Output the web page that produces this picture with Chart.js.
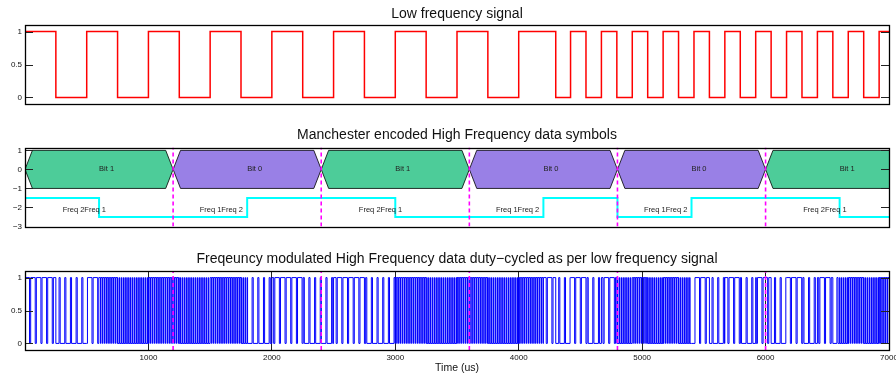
<!DOCTYPE html>
<html>
<head>
<meta charset="utf-8">
<script src="https://cdn.jsdelivr.net/npm/chart.js@4"></script>
<style>
  html, body { margin: 0; padding: 0; background: #fff; }
  #wrap { position: relative; width: 896px; height: 377px; }
  .pane { position: absolute; left: 0; width: 896px; }
</style>
</head>
<body>
<div id="wrap">
  <div class="pane" style="top:0;height:112px"><canvas id="lowFreq"></canvas></div>
  <div class="pane" style="top:120px;height:115px"><canvas id="symbols"></canvas></div>
  <div class="pane" style="top:240px;height:137px"><canvas id="fmSignal"></canvas></div>
</div>
<script>
// time axis (us)
const tMax = 7000;
const xTicks = [0, 1000, 2000, 3000, 4000, 5000, 6000, 7000];

// low frequency signal: rising / falling edges (us)
const lowRise = [0, 500, 1000, 1500, 2000, 2500, 3000, 3500, 4000, 4420, 4670, 4920, 5170, 5420, 5670, 5920, 6170, 6420, 6670, 6920];
const lowFall = [250, 750, 1250, 1750, 2250, 2750, 3250, 3750, 4300, 4545, 4795, 5045, 5295, 5545, 5795, 6045, 6295, 6545, 6795];
const unitTicks = [0, 0.5, 1];

// manchester symbols
const bitStart = [0, 1200, 2400, 3600, 4800, 6000];
const bitValue = [1, 0, 1, 0, 0, 1];
const bitLen = 1200;
const bitSlope = 60;
const bitColors = ['#9980e6', '#4dcc99'];      // bit 0, bit 1
const freqLabel = ['Freq 1Freq 2', 'Freq 2Freq 1'];
const freqLabelOffset = [215, 305];
const freqLabelY = -2.12;
const symbolEdges = [1200, 2400, 3600, 4800, 6000];
const symTicks = [-3, -2, -1, 0, 1];

// frequency selection line (Freq 2 = -1.5, Freq 1 = -2.5)
const freqTimes = [0, 600, 1800, 3000, 4200, 4800, 5400, 6600];
const freqLevels = [-1.5, -2.5, -1.5, -2.5, -1.5, -2.5, -1.5, -2.5];

// carrier
const freq2Period = 46;   // sparse
const freq1Period = 15;   // dense
const dutyOn = 0.8;
const dutyOff = 0.2;

const fontFamily = "'Liberation Sans', Arial, Helvetica, sans-serif";
Chart.defaults.font.family = fontFamily;

// ---- build series ----
const lowPoints = [];
lowRise.forEach((r, i) => {
  lowPoints.push({x: r, y: 1});
  if (i < lowFall.length) lowPoints.push({x: lowFall[i], y: 0});
});
lowPoints.push({x: tMax, y: lowPoints[lowPoints.length - 1].y});

const freqPoints = freqTimes.map((t, i) => ({x: t, y: freqLevels[i]}));
freqPoints.push({x: tMax, y: freqLevels[freqLevels.length - 1]});

function levelAt(points, t) {
  let v = points[0].y;
  points.forEach(p => { if (p.x <= t) v = p.y; });
  return v;
}

const cuts = [...new Set([...lowRise, ...lowFall, ...freqTimes, tMax])].sort((a, b) => a - b);
const fmPoints = [];
for (let i = 0; i < cuts.length - 1; i++) {
  const a = cuts[i], b = cuts[i + 1];
  const on = levelAt(lowPoints, a) === 1;
  const P = levelAt(freqPoints, a) === -1.5 ? freq2Period : freq1Period;
  const d = (on ? dutyOn : dutyOff) * P;
  for (let c = Math.floor(a / P) * P; c < b; c += P) {
    const h0 = Math.max(c, a), h1 = Math.min(c + d, b);
    if (h1 > h0) fmPoints.push({x: h0, y: 1});
    const l0 = Math.max(c + d, a), l1 = Math.min(c + P, b);
    if (l1 > l0) fmPoints.push({x: l0, y: 0});
  }
}
fmPoints.push({x: tMax, y: fmPoints[fmPoints.length - 1].y});

function dashedEdges(yMin, yMax) {
  return symbolEdges.map(e => ({
    data: [{x: e, y: yMin}, {x: e, y: yMax}],
    borderColor: '#ff00ff', borderWidth: 1.6, borderDash: [4, 3],
    pointRadius: 0, fill: false
  }));
}

// hexagons: top edge filled down to bottom edge
const hexSets = [];
bitStart.forEach((s, i) => {
  const xs = [s, s + bitSlope, s + bitLen - bitSlope, s + bitLen];
  hexSets.push({
    data: xs.map((x, k) => ({x, y: (k === 0 || k === 3) ? 0 : 1})),
    borderColor: '#000', borderWidth: 0.8, pointRadius: 0,
    backgroundColor: bitColors[bitValue[i]], fill: '+1'
  });
  hexSets.push({
    data: xs.map((x, k) => ({x, y: (k === 0 || k === 3) ? 0 : -1})),
    borderColor: '#000', borderWidth: 0.8, pointRadius: 0, fill: false
  });
});

// ---- plugins ----
const framePlugin = {
  id: 'frame',
  afterDatasetsDraw(chart) {
    const {ctx, chartArea: a, scales} = chart;
    ctx.save();
    ctx.strokeStyle = '#222';
    ctx.lineWidth = 1;
    scales.y.ticks.forEach(t => {
      const py = Math.round(scales.y.getPixelForValue(t.value)) + 0.5;
      ctx.beginPath();
      ctx.moveTo(a.left, py); ctx.lineTo(a.left + 8, py);
      ctx.moveTo(a.right, py); ctx.lineTo(a.right - 8, py);
      ctx.stroke();
    });
    ctx.strokeStyle = '#000';
    ctx.lineWidth = 1.3;
    ctx.strokeRect(Math.round(a.left) + 0.5, Math.round(a.top) + 0.5,
      Math.round(a.right - a.left), Math.round(a.bottom - a.top));
    ctx.restore();
  }
};

const symbolText = {
  id: 'symbolText',
  afterDatasetsDraw(chart) {
    const {ctx, chartArea: a, scales: {x, y}} = chart;
    ctx.save();
    ctx.beginPath();
    ctx.rect(a.left, a.top, a.right - a.left, a.bottom - a.top);
    ctx.clip();
    ctx.font = '7.5px ' + fontFamily;
    ctx.fillStyle = '#222';
    ctx.textAlign = 'left';
    ctx.textBaseline = 'middle';
    bitStart.forEach((s, i) => {
      ctx.fillText('Bit ' + bitValue[i], x.getPixelForValue(s + bitLen / 2), y.getPixelForValue(0));
      ctx.fillText(freqLabel[bitValue[i]], x.getPixelForValue(s + freqLabelOffset[bitValue[i]]), y.getPixelForValue(freqLabelY));
    });
    ctx.restore();
  }
};

const tickFont = {family: fontFamily, size: 8};
const fitY = s => { s.width = 25; s.paddingTop = 0; s.paddingBottom = 0; };

function yScale(min, max, ticks, fmt) {
  return {
    min, max,
    afterBuildTicks: s => { s.ticks = ticks.map(v => ({value: v})); },
    afterFit: fitY,
    grid: {display: false, drawTicks: false},
    border: {display: false},
    ticks: {font: tickFont, color: '#111', padding: 3, callback: fmt}
  };
}

function titleOpt(text, top, bottom) {
  return {
    display: true, text, fullSize: false, color: '#111',
    font: {family: fontFamily, size: 14, weight: 'normal'},
    padding: {top, bottom}
  };
}

const common = {
  animation: false,
  responsive: true,
  maintainAspectRatio: false,
  elements: {line: {tension: 0}}
};

new Chart(document.getElementById('lowFreq'), {
  type: 'line',
  data: {datasets: [{data: lowPoints, borderColor: '#ff0000', borderWidth: 1.5, stepped: true, pointRadius: 0, fill: false}]},
  options: Object.assign({}, common, {
    layout: {padding: {left: 0, right: 7, top: 0, bottom: 8}},
    plugins: {legend: {display: false}, tooltip: {enabled: false},
      title: titleOpt('Low frequency signal', 5.6, 2.6)},
    scales: {
      x: {type: 'linear', min: 0, max: tMax, display: false},
      y: yScale(-0.1, 1.1, unitTicks, v => String(v))
    }
  }),
  plugins: [framePlugin]
});

new Chart(document.getElementById('symbols'), {
  type: 'line',
  data: {datasets: [
    ...dashedEdges(-3, 1.15),
    {data: freqPoints, borderColor: '#00ffff', borderWidth: 2, stepped: true, pointRadius: 0, fill: false},
    ...hexSets
  ]},
  options: Object.assign({}, common, {
    layout: {padding: {left: 0, right: 7, top: 0, bottom: 8.5}},
    plugins: {legend: {display: false}, tooltip: {enabled: false},
      filler: {drawTime: 'beforeDatasetsDraw'},
      title: titleOpt('Manchester encoded High Frequency data symbols', 6.6, 4.1)},
    scales: {
      x: {type: 'linear', min: 0, max: tMax, display: false},
      y: yScale(-3, 1.15, symTicks, v => String(v).replace('-', '\u2212'))
    }
  }),
  plugins: [framePlugin, symbolText]
});

new Chart(document.getElementById('fmSignal'), {
  type: 'line',
  data: {datasets: [
    ...dashedEdges(-0.1, 1.1),
    {data: fmPoints, borderColor: '#0000ff', borderWidth: 1, stepped: true, pointRadius: 0, fill: false}
  ]},
  options: Object.assign({}, common, {
    layout: {padding: {left: 0, right: 7, top: 0, bottom: 0}},
    plugins: {legend: {display: false}, tooltip: {enabled: false},
      title: titleOpt('Freqeuncy modulated High Frequency data duty\u2212cycled as per low frequency signal', 10.9, 3.3)},
    scales: {
      x: {
        type: 'linear', min: 0, max: tMax,
        afterBuildTicks: s => { s.ticks = xTicks.map(v => ({value: v})); },
        afterFit: s => { s.height = 27; s.paddingLeft = 0; s.paddingRight = 0; },
        grid: {display: true, drawOnChartArea: true, drawTicks: false, color: '#222', lineWidth: 1},
        border: {display: false},
        ticks: {font: tickFont, color: '#111', padding: 3, maxRotation: 0, autoSkip: false,
          callback: v => v === 0 ? '' : String(v)},
        title: {display: true, text: 'Time (us)', color: '#111',
          font: {family: fontFamily, size: 10.5}, padding: {top: 0, bottom: 3}}
      },
      y: yScale(-0.1, 1.1, unitTicks, v => String(v))
    }
  }),
  plugins: [framePlugin]
});
</script>
</body>
</html>
